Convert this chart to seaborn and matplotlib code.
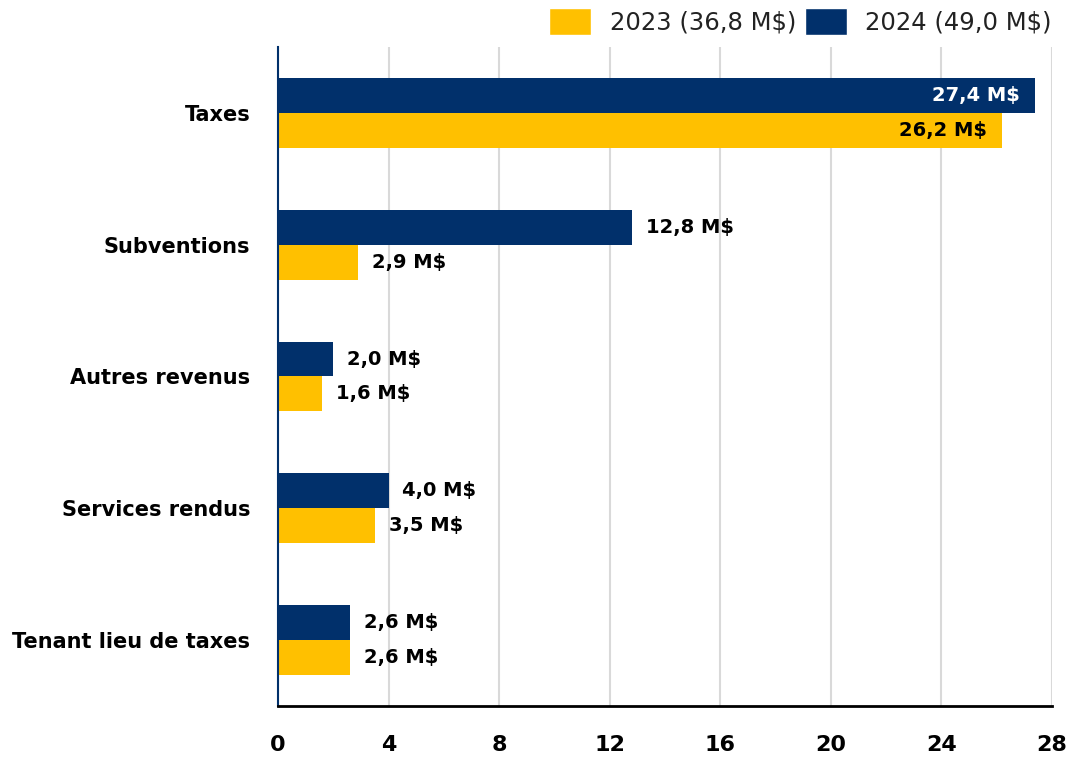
import matplotlib
matplotlib.use("Agg")
import matplotlib.pyplot as plt
import seaborn as sns
import pandas as pd
from matplotlib.patches import Patch

# data (millions $)
categories = ["Taxes", "Subventions", "Autres revenus", "Services rendus", "Tenant lieu de taxes"]
values_2023 = [26.2, 2.9, 1.6, 3.5, 2.6]
values_2024 = [27.4, 12.8, 2.0, 4.0, 2.6]
legend_labels = {"2023": "2023 (36,8 M$)", "2024": "2024 (49,0 M$)"}
x_ticks = [0, 4, 8, 12, 16, 20, 24, 28]

navy = "#01306B"
yellow = "#FFC000"

df = pd.DataFrame({
    "categorie": categories * 2,
    "annee": ["2023"] * len(categories) + ["2024"] * len(categories),
    "valeur": values_2023 + values_2024,
})

sns.set_theme(style="white")
plt.rcParams["font.family"] = ["DejaVu Sans"]
plt.rcParams["text.color"] = "black"
plt.rcParams["xtick.color"] = "black"
plt.rcParams["ytick.color"] = "black"

fig = plt.figure(figsize=(10.73, 7.57), dpi=100)
ax = fig.add_axes([0.2591, 0.0674, 0.7213, 0.8705])

sns.barplot(data=df, y="categorie", x="valeur", hue="annee",
            hue_order=["2024", "2023"], order=categories,
            palette={"2024": navy, "2023": yellow},
            width=0.53, orient="h", ax=ax, legend=False, saturation=1,
            linewidth=0)

ax.set_xlim(0, 28)
ax.set_xticks(x_ticks)
ax.set_xticklabels([str(t) for t in x_ticks], fontsize=16, fontweight="bold")
ax.tick_params(axis="x", length=0, pad=21, labelcolor="black")
ax.tick_params(axis="y", length=0, pad=20, labelcolor="black")
for lbl in ax.get_yticklabels():
    lbl.set_fontsize(15)
    lbl.set_fontweight("bold")
ax.set_xlabel("")
ax.set_ylabel("")
ax.grid(axis="x", color="#d9d9d9", linewidth=1.5)
ax.set_axisbelow(True)

for s in ["top", "right"]:
    ax.spines[s].set_visible(False)
ax.spines["left"].set_color(navy)
ax.spines["left"].set_linewidth(1.5)
ax.spines["bottom"].set_color("black")
ax.spines["bottom"].set_linewidth(2)

# value labels
for container, year in zip(ax.containers, ["2024", "2023"]):
    for bar in container:
        w = bar.get_width()
        yc = bar.get_y() + bar.get_height() / 2
        txt = f"{w:.1f}".replace(".", ",") + " M$"
        if w > 20:
            ax.annotate(txt, (w, yc), xytext=(-11, 0), textcoords="offset points",
                        ha="right", va="center", fontsize=14, fontweight="bold",
                        color="white" if year == "2024" else "black")
        else:
            ax.annotate(txt, (w, yc), xytext=(10, 0), textcoords="offset points",
                        ha="left", va="center", fontsize=14, fontweight="bold",
                        color="black")

handles = [Patch(facecolor=yellow, label=legend_labels["2023"]),
           Patch(facecolor=navy, label=legend_labels["2024"])]
leg = fig.legend(handles=handles, loc="upper right", bbox_to_anchor=(0.9804, 0.99),
                 ncol=2, frameon=False, prop={"family": "DejaVu Sans", "size": 17.5},
                 handlelength=1.72, handleheight=1.35, columnspacing=0.35,
                 handletextpad=0.78, borderpad=0, borderaxespad=0)
for t in leg.get_texts():
    t.set_color("#222222")

fig.savefig("out.png", dpi=100)
